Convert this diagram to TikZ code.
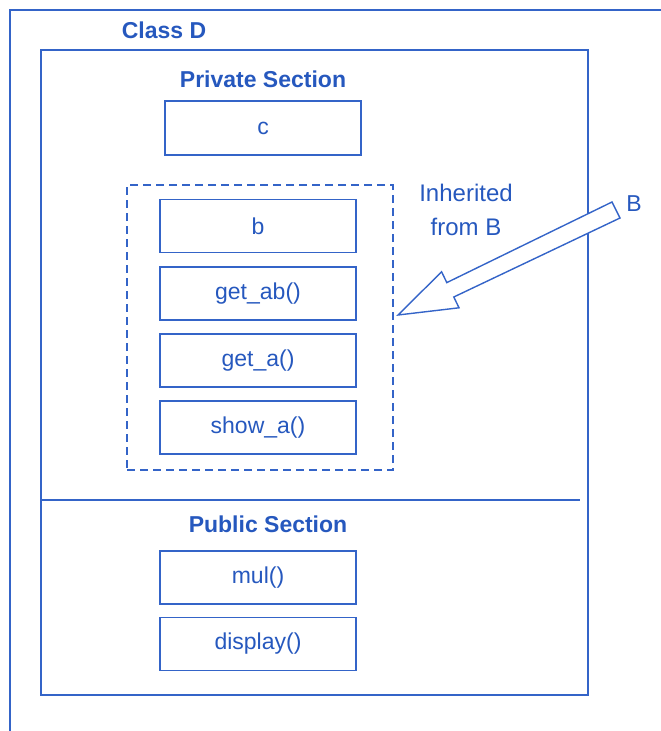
\documentclass[tikz,border=0pt]{standalone}
\usepackage{fontspec}
\setmainfont{Liberation Sans}
\begin{document}
\begin{tikzpicture}[x=1pt,y=-1pt,
  every node/.style={text=ink, font=\fontsize{23}{27}\selectfont},
  member/.style={draw=ln, line width=1.6pt, minimum width=196pt, minimum height=53pt, inner sep=0pt},
  head/.style={font=\fontsize{23}{27}\selectfont\bfseries},
  frame/.style={draw=ln, line width=1.6pt},
]
\definecolor{ink}{RGB}{38,88,190}
\definecolor{ln}{RGB}{52,100,200}
\useasboundingbox (0,0) rectangle (661,731);
% outer class frame (runs off the picture)
\draw[frame] (10,731) -- (10,10) -- (661,10);
\node[head] (classD) at (164,30) {Class D};
% inner box
\node[frame, minimum width=547pt, minimum height=645pt, inner sep=0pt] (inner) at (314.5,372.5) {};
\node[head] (priv) at (263,79) {Private Section};
\node[member, minimum width=196pt, minimum height=54pt] (c) at (263,128) {c};
% inherited group
\node[draw=ln, line width=1.6pt, dash pattern=on 8pt off 5pt, minimum width=266pt, minimum height=285pt, inner sep=0pt] (inh) at (260,327.5) {};
\node[member] (b) at (258,226) {b};
\node[member] (getab) at (258,293.5) {get\_ab()};
\node[member] (geta) at (258,360.5) {get\_a()};
\node[member] (showa) at (258,427.5) {show\_a()};
\node[align=center, font=\fontsize{24}{34}\selectfont] (inhlbl) at (466,210) {Inherited\\from B};
\node (B) at (634,204) {B};
% hollow arrow from B into the inherited group
\coordinate (tip) at (398,315);
\draw[frame, line width=1.4pt, line join=miter, fill=white]
  (tip) -- (459.0,307.8) -- (453.8,297.0) -- (620.0,218.0) -- (612.0,202.0)
  -- (446.8,282.6) -- (441.6,271.8) -- cycle;
% public section
\draw[frame] (inner.west |- 0,500) coordinate (sepL) -- (580,500) coordinate (sepR);
\node[head] (pub) at (268,524) {Public Section};
\node[member] (mul) at (258,577.5) {mul()};
\node[member] (disp) at (258,644) {display()};
\end{tikzpicture}
\end{document}
